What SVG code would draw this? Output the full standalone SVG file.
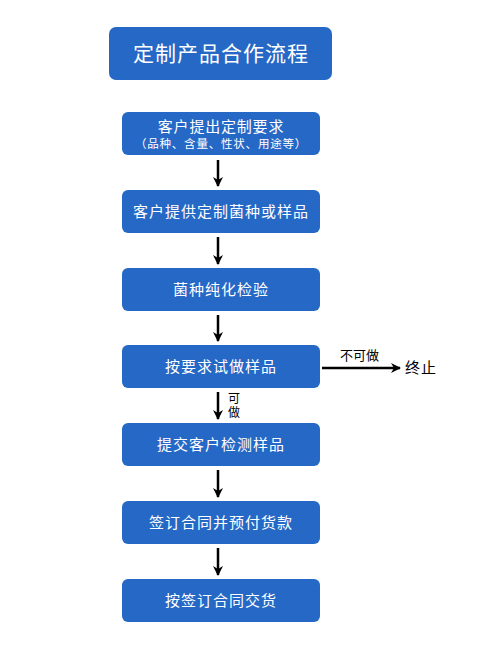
<svg xmlns="http://www.w3.org/2000/svg" width="488" height="662" viewBox="0 0 488 662">
<style>
.box{fill:#2668c6;}
.t{font-family:"Liberation Sans","Noto Sans CJK SC",sans-serif;fill:#fff;text-anchor:middle;}
.lbl{font-family:"Liberation Sans","Noto Sans CJK SC",sans-serif;fill:#000;}
.c{stroke:#000;stroke-width:2.5;fill:none;}
</style>
<defs>
<marker id="ah" viewBox="0 0 10 10" refX="9" refY="5" markerWidth="4" markerHeight="4.4" orient="auto" markerUnits="strokeWidth">
<path d="M0,0 L10,5 L0,10 L3,5 Z" fill="#000"/>
</marker>
</defs>
<rect width="488" height="662" fill="#fff"/>
<g id="title">
<rect class="box" x="109" y="27" width="223" height="53" rx="7"/>
<text class="t" x="221" y="61" font-size="21" letter-spacing="1">定制产品合作流程</text>
</g>
<g id="n1">
<rect class="box" x="122" y="112" width="198" height="43" rx="6"/>
<text class="t" x="221" y="132" font-size="15" letter-spacing="0.8">客户提出定制要求</text>
<text class="t" x="221" y="148" font-size="11.5" letter-spacing="0.8">（品种、含量、性状、用途等）</text>
</g>
<g id="n2">
<rect class="box" x="122" y="190" width="198" height="43" rx="6"/>
<text class="t" x="221" y="217" font-size="15" letter-spacing="1">客户提供定制菌种或样品</text>
</g>
<g id="n3">
<rect class="box" x="122" y="268" width="198" height="43" rx="6"/>
<text class="t" x="221" y="295" font-size="15" letter-spacing="1">菌种纯化检验</text>
</g>
<g id="n4">
<rect class="box" x="122" y="345" width="198" height="43" rx="6"/>
<text class="t" x="221" y="372" font-size="15" letter-spacing="1">按要求试做样品</text>
</g>
<g id="n5">
<rect class="box" x="122" y="423" width="198" height="43" rx="6"/>
<text class="t" x="221" y="450" font-size="15" letter-spacing="1">提交客户检测样品</text>
</g>
<g id="n6">
<rect class="box" x="122" y="501" width="198" height="43" rx="6"/>
<text class="t" x="221" y="528" font-size="15" letter-spacing="1">签订合同并预付货款</text>
</g>
<g id="n7">
<rect class="box" x="122" y="579" width="198" height="43" rx="6"/>
<text class="t" x="221" y="606" font-size="15" letter-spacing="1">按签订合同交货</text>
</g>
<g id="end">
<text class="lbl" x="405" y="373" font-size="15" letter-spacing="1">终止</text>
</g>
<g id="connectors">
<line class="c" x1="218" y1="160" x2="218" y2="186" marker-end="url(#ah)"/>
<line class="c" x1="218" y1="237" x2="218" y2="264" marker-end="url(#ah)"/>
<line class="c" x1="218" y1="315" x2="218" y2="341" marker-end="url(#ah)"/>
<line class="c" x1="218" y1="392" x2="218" y2="419" marker-end="url(#ah)"/>
<line class="c" x1="218" y1="470" x2="218" y2="497" marker-end="url(#ah)"/>
<line class="c" x1="218" y1="548" x2="218" y2="575" marker-end="url(#ah)"/>
<line class="c" x1="322" y1="368" x2="400" y2="368" marker-end="url(#ah)"/>
<text class="lbl" x="340" y="360" font-size="13">不可做</text>
<text class="lbl" x="228" y="403" font-size="12">可</text>
<text class="lbl" x="228" y="417" font-size="12">做</text>
</g>
</svg>
